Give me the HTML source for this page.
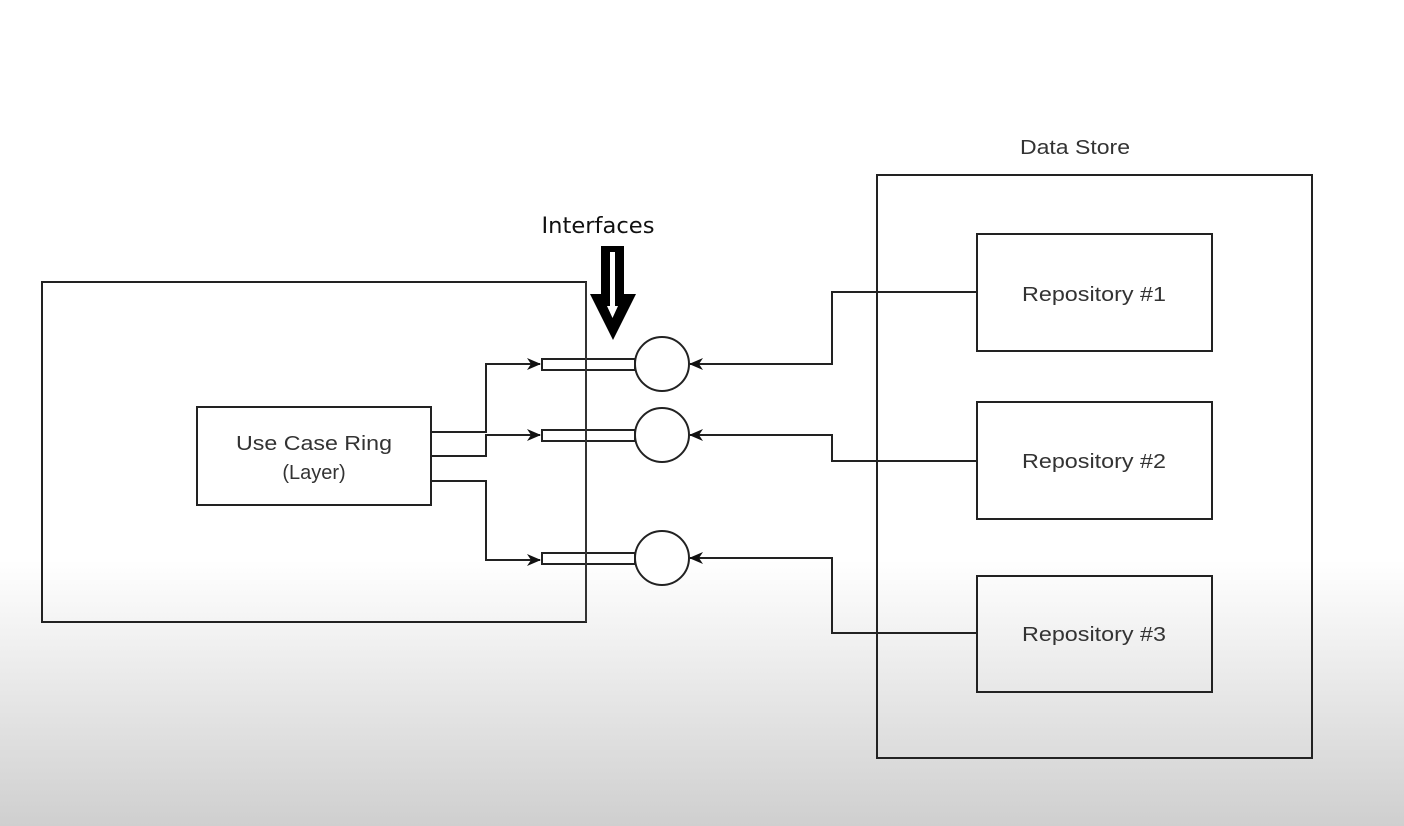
<!DOCTYPE html>
<html><head><style>
body{margin:0;width:1404px;height:826px;overflow:hidden;background:linear-gradient(to bottom,#fff 0,#fff 560px,#cfcfcf 826px);font-family:"Liberation Sans",sans-serif}
</style></head><body>
<svg width="1404" height="826" xmlns="http://www.w3.org/2000/svg" style="position:absolute;left:0;top:0">
<defs><marker id="a" markerWidth="14" markerHeight="12" refX="13" refY="6" orient="auto" markerUnits="userSpaceOnUse"><path d="M0,0 L14,6 L0,12 L4,6 Z" fill="#111"/></marker></defs>
<g fill="none" stroke="#222" stroke-width="2">
<rect x="42" y="282" width="544" height="340"/>
<rect x="197" y="407" width="234" height="98"/>
<rect x="877" y="175" width="435" height="583"/>
<rect x="977" y="234" width="235" height="117"/>
<rect x="977" y="402" width="235" height="117"/>
<rect x="977" y="576" width="235" height="116"/>
<polyline points="431,432 486,432 486,364 540,364" marker-end="url(#a)"/>
<polyline points="431,456 486,456 486,435 540,435" marker-end="url(#a)"/>
<polyline points="431,481 486,481 486,560 540,560" marker-end="url(#a)"/>
<polyline points="977,292 832,292 832,364 690,364" marker-end="url(#a)"/>
<polyline points="977,461 832,461 832,435 690,435" marker-end="url(#a)"/>
<polyline points="977,633 832,633 832,558 690,558" marker-end="url(#a)"/>
</g>
<g fill="#fff" stroke="#222" stroke-width="2">
<rect x="542" y="359" width="93" height="11"/>
<rect x="542" y="430" width="93" height="11"/>
<rect x="542" y="553" width="93" height="11"/>
<circle cx="662" cy="364" r="27"/>
<circle cx="662" cy="435" r="27"/>
<circle cx="662" cy="558" r="27"/>
</g>
<line x1="586" y1="282" x2="586" y2="622" stroke="#333" stroke-width="2"/>
<path d="M601,246 L624,246 L624,294 L636,294 L613,340 L590,294 L601,294 Z" fill="#000"/>
<path d="M610,252 L615,252 L615,306 L618,306 L612.5,318 L607,306 L610,306 Z" fill="#fff"/>
<g font-size="20" fill="#333" text-anchor="middle" transform="scale(1,1)">
<text x="314" y="450" textLength="156" lengthAdjust="spacingAndGlyphs">Use Case Ring</text>
<text x="314" y="479">(Layer)</text>
<text x="1094" y="301" textLength="144" lengthAdjust="spacingAndGlyphs">Repository #1</text>
<text x="1094" y="468" textLength="144" lengthAdjust="spacingAndGlyphs">Repository #2</text>
<text x="1094" y="641" textLength="144" lengthAdjust="spacingAndGlyphs">Repository #3</text>
<text x="1075" y="154" textLength="110" lengthAdjust="spacingAndGlyphs">Data Store</text>
</g>
<text x="598" y="233" font-size="22" fill="#111" text-anchor="middle" font-family="DejaVu Sans, sans-serif" textLength="113" lengthAdjust="spacingAndGlyphs">Interfaces</text>
</svg>
</body></html>
